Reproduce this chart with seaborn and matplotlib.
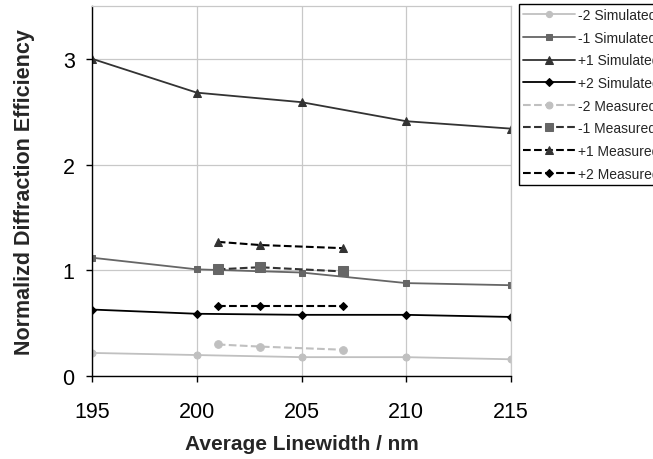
import numpy as np
import pandas as pd
import matplotlib
matplotlib.use("Agg")
import matplotlib.pyplot as plt
import seaborn as sns

# simulated values at each linewidth
linewidth_sim = [195, 200, 205, 210, 215]
m2_sim = [0.22, 0.20, 0.18, 0.18, 0.16]
m1_sim = [1.12, 1.01, 0.98, 0.88, 0.86]
p1_sim = [3.00, 2.68, 2.59, 2.41, 2.34]
p2_sim = [0.63, 0.59, 0.58, 0.58, 0.56]

# measured values
linewidth_meas = [201, 203, 207]
m2_meas = [0.30, 0.28, 0.25]
m1_meas = [1.01, 1.03, 0.99]
p1_meas = [1.27, 1.24, 1.21]
p2_meas = [0.66, 0.66, 0.66]

x_ticks = [195, 200, 205, 210, 215]
y_ticks = [0, 1, 2, 3]

sns.set_style("white")
plt.rcParams['font.family'] = ['Liberation Sans', 'DejaVu Sans']

fig = plt.figure(figsize=(6.53, 4.60), dpi=100)
ax = fig.add_axes([0.141, 0.180, 0.6415, 0.805])

series = [
    (linewidth_sim, m2_sim, '-2 Simulated', '#c0c0c0', '#c0c0c0', 'o', '-', 5),
    (linewidth_sim, m1_sim, '-1 Simulated', '#666666', '#666666', 's', '-', 5),
    (linewidth_sim, p1_sim, '+1 Simulated', '#333333', '#333333', '^', '-', 6),
    (linewidth_sim, p2_sim, '+2 Simulated', '#000000', '#000000', 'D', '-', 4.5),
    (linewidth_meas, m2_meas, '-2 Measured', '#c0c0c0', '#c0c0c0', 'o', '--', 5.5),
    (linewidth_meas, m1_meas, '-1 Measured', '#333333', '#666666', 's', '--', 6.5),
    (linewidth_meas, p1_meas, '+1 Measured', '#000000', '#333333', '^', '--', 6),
    (linewidth_meas, p2_meas, '+2 Measured', '#000000', '#000000', 'D', '--', 4.5),
]

for xs, ys, label, lc, mc, mk, ls, ms in series:
    df = pd.DataFrame({'x': xs, 'y': ys})
    sns.lineplot(data=df, x='x', y='y', ax=ax, color=lc, marker=mk,
                 linestyle=ls, markersize=ms, markerfacecolor=mc,
                 markeredgecolor=mc, linewidth=1.3 if ls == '-' else 1.5,
                 label=label, dashes=False if ls == '-' else (2.5, 2.5))

ax.set_xlim(195, 215)
ax.set_ylim(0, 3.5)
ax.set_xticks(x_ticks)
ax.set_yticks(y_ticks)
ax.grid(True, color='#c8c8c8', linewidth=0.9)
ax.set_axisbelow(True)
for s in ['top', 'right']:
    ax.spines[s].set_color('#c8c8c8')
    ax.spines[s].set_linewidth(0.9)
for s in ['left', 'bottom']:
    ax.spines[s].set_color('black')
    ax.spines[s].set_linewidth(1.0)
ax.tick_params(axis='both', direction='out', length=4.5, width=1, colors='black',
               labelsize=15.5, bottom=True, left=True)
ax.tick_params(axis='x', pad=13)
ax.tick_params(axis='y', pad=8)
ax.set_xlabel('Average Linewidth / nm', fontsize=15, fontweight='bold', labelpad=9)
ax.set_ylabel('Normalizd Diffraction Efficiency', fontsize=15.5, fontweight='bold', labelpad=20)

ax.legend(loc='upper left', bbox_to_anchor=(0.795, 0.989), bbox_transform=fig.transFigure,
          frameon=True, fancybox=False, edgecolor='black', framealpha=1,
          fontsize=10, handlelength=3.75, handletextpad=0.2, labelspacing=0.62,
          borderpad=0.3, borderaxespad=0, markerscale=0.9)

fig.savefig('out.png', dpi=100)
